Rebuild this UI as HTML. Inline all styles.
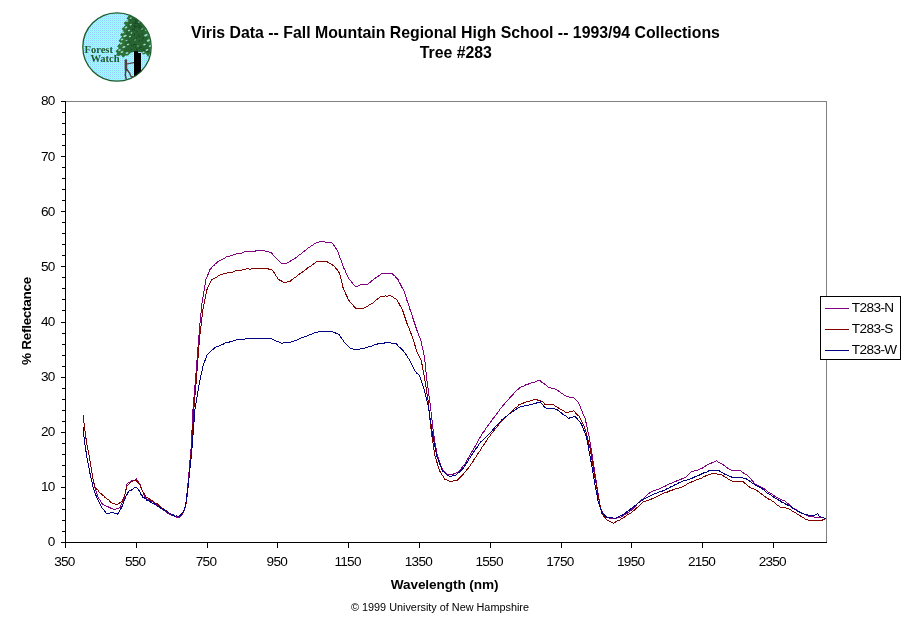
<!DOCTYPE html>
<html><head><meta charset="utf-8"><title>Viris Data -- Tree #283</title>
<style>
html,body{margin:0;padding:0;background:#fff;}
body{width:911px;height:623px;overflow:hidden;position:relative;}
svg{position:absolute;left:0;top:0;display:block;}
text{font-family:"Liberation Sans",Arial,Helvetica,sans-serif;fill:#000;}
.t13{font-size:13.6px;letter-spacing:-0.75px;}
.t12{font-size:13.6px;letter-spacing:-0.6px;}
.t11{font-size:10.85px;}
.bold13{font-size:13.6px;font-weight:bold;letter-spacing:-0.08px;}
.bold13r{font-size:13.6px;font-weight:bold;letter-spacing:-0.33px;}
.title{font-size:15.85px;font-weight:bold;}
.logo text{font-family:"Liberation Serif","Times New Roman",serif;font-weight:bold;font-size:10.5px;fill:#1f5a2a;}
</style></head><body>
<svg width="911" height="623" viewBox="0 0 911 623">
<g class="logo">
<defs><clipPath id="lc"><circle cx="117" cy="47" r="34"/></clipPath>
<pattern id="sky" width="2" height="2" patternUnits="userSpaceOnUse"><rect width="2" height="2" fill="#99ffff"/><rect width="1" height="1" fill="#99ccff"/><rect x="1" y="1" width="1" height="1" fill="#a4eef8"/></pattern></defs>
<circle cx="117" cy="47" r="34.2" fill="#9df0fb"/>
<circle cx="117" cy="47" r="34.2" fill="url(#sky)" stroke="#1c5c2c" stroke-width="1.3"/>
<g clip-path="url(#lc)">
<path d="M129.5 14.5 L126.5 18.5 L128 19.5 L123.5 23 L125.5 25 L121.5 29 L123.5 30.5 L120 35 L122 36.5 L118.5 41 L120.5 42.5 L117 46.5 L119 48 L115.5 51 L117 53 L116 55.5 L119 56 L121 55 L123 57.8 L125.5 55.5 L128 55.5 L130.5 53 L134 51.5 L141 51.5 L143 54.5 L146 53.5 L148 57 L151 52 L154 48 L154 12 L132 10 Z" fill="#2f7139"/>
<path d="M130 15 L126 33 L124 52 L150 52 L147 36 L138 18 Z" fill="#276431"/>
<path d="M137.8 34.5h1M136.3 49.6h1M138.3 36.3h1M137.1 25.9h1M141.7 40.2h1M135.3 23.0h1M139.6 22.9h1M129.2 42.2h1M146.8 51.4h1M138.9 40.9h1M132.4 25.0h1M130.6 36.9h1M134.5 26.1h1M136.7 21.0h1M141.6 34.1h1M139.0 36.6h1M139.3 36.0h1M134.0 34.6h1M147.5 51.9h1M141.0 46.9h1M133.9 30.1h1M132.2 29.2h1M135.2 44.5h1M134.8 47.1h1M144.2 50.7h1M134.9 20.0h1M136.4 49.1h1M134.8 51.4h1M138.1 22.3h1M132.8 44.9h1M135.6 22.8h1M142.4 50.9h1M134.8 23.8h1M133.2 23.2h1M131.1 45.5h1M136.2 37.9h1M139.3 26.1h1M138.3 24.2h1M136.3 23.7h1M134.7 26.8h1M143.3 51.1h1M141.4 29.7h1M135.9 26.7h1M139.7 47.3h1M134.5 26.8h1M133.9 44.7h1M132.1 29.5h1M137.7 22.9h1M138.1 27.8h1M136.4 31.9h1M136.7 50.7h1M142.6 38.4h1M133.6 25.9h1M143.4 49.1h1M133.7 28.0h1M144.8 43.7h1M141.5 26.3h1M139.0 48.2h1M131.8 33.5h1M139.2 27.6h1M140.5 28.2h1M133.8 39.1h1M139.1 25.6h1M134.8 22.2h1M142.3 37.9h1M133.5 39.7h1M131.0 49.4h1M135.3 20.5h1" stroke="#173f22" stroke-width="1" fill="none"/>
<g fill="#9adccb"><ellipse cx="130.7" cy="18.2" rx="1.2" ry="0.7" transform="rotate(-20 130.7 18.2)"/><ellipse cx="127.2" cy="21.1" rx="1.3" ry="0.8" transform="rotate(-20 127.2 21.1)"/><ellipse cx="130.7" cy="24.6" rx="1.2" ry="0.7" transform="rotate(-20 130.7 24.6)"/><ellipse cx="126" cy="27.5" rx="1.5" ry="0.8" transform="rotate(-20 126 27.5)"/><ellipse cx="129" cy="30.5" rx="1.2" ry="0.7" transform="rotate(-20 129 30.5)"/><ellipse cx="131.5" cy="33" rx="1.0" ry="0.7" transform="rotate(-20 131.5 33)"/><ellipse cx="123" cy="32.5" rx="1.3" ry="0.8" transform="rotate(-20 123 32.5)"/><ellipse cx="125" cy="35.9" rx="1.9" ry="1.0" transform="rotate(-20 125 35.9)"/><ellipse cx="130" cy="36.5" rx="1.2" ry="0.7" transform="rotate(-20 130 36.5)"/><ellipse cx="122" cy="39.5" rx="1.4" ry="0.8" transform="rotate(-20 122 39.5)"/><ellipse cx="145.9" cy="35.2" rx="1.9" ry="1.0" transform="rotate(-20 145.9 35.2)"/><ellipse cx="148.4" cy="40.5" rx="1.7" ry="1.0" transform="rotate(-20 148.4 40.5)"/><ellipse cx="144.5" cy="44.5" rx="1.4" ry="0.8" transform="rotate(-20 144.5 44.5)"/><ellipse cx="121" cy="43.5" rx="1.4" ry="0.8" transform="rotate(-20 121 43.5)"/><ellipse cx="128" cy="44.5" rx="1.3" ry="0.7" transform="rotate(-20 128 44.5)"/><ellipse cx="124" cy="47" rx="1.6" ry="0.9" transform="rotate(-20 124 47)"/><ellipse cx="119.5" cy="50" rx="1.4" ry="0.8" transform="rotate(-20 119.5 50)"/><ellipse cx="122" cy="52" rx="1.5" ry="0.8" transform="rotate(-20 122 52)"/><ellipse cx="127" cy="53" rx="1.4" ry="0.8" transform="rotate(-20 127 53)"/><ellipse cx="131" cy="54.3" rx="1.0" ry="0.6" transform="rotate(-20 131 54.3)"/><ellipse cx="143.5" cy="52.3" rx="1.3" ry="0.8" transform="rotate(-20 143.5 52.3)"/><ellipse cx="147" cy="50" rx="1.5" ry="0.9" transform="rotate(-20 147 50)"/><ellipse cx="150" cy="46" rx="1.2" ry="0.9" transform="rotate(-20 150 46)"/><ellipse cx="142" cy="29" rx="1.0" ry="0.6" transform="rotate(-20 142 29)"/><ellipse cx="139" cy="22" rx="1.0" ry="0.6" transform="rotate(-20 139 22)"/><ellipse cx="146" cy="30" rx="1.0" ry="0.6" transform="rotate(-20 146 30)"/><ellipse cx="135" cy="40" rx="0.8" ry="0.5" transform="rotate(-20 135 40)"/><ellipse cx="138" cy="46" rx="0.8" ry="0.5" transform="rotate(-20 138 46)"/><ellipse cx="126.5" cy="40.5" rx="1.1" ry="0.6" transform="rotate(-20 126.5 40.5)"/></g>
<path d="M134 51.2 H138 V53 H141 V80 H134 Z" fill="#000"/>
<g stroke="#51403f" fill="none" stroke-linecap="round" stroke-linejoin="round">
<circle cx="125.9" cy="60.6" r="1.4" fill="#51403f" stroke="none"/>
<path d="M125.9 62 L126 70" stroke-width="2.6"/>
<path d="M127 64 L133.6 62.6" stroke-width="1.2"/>
<path d="M125.8 70 L125.3 75 L126.2 79" stroke-width="1.5"/>
<path d="M127 69.5 L129.5 73 L131 76.5 L133 76.7" stroke-width="1.4"/>
</g>
</g>
<text x="84.5" y="52.8">Forest</text>
<text x="90.4" y="61.7">Watch</text>
</g>

<path d="M65 101.5H826.5V542" fill="none" stroke="#808080" stroke-width="1" shape-rendering="crispEdges"/>
<path d="M65.5 101V542.5H827" fill="none" stroke="#000" stroke-width="1" shape-rendering="crispEdges"/>
<path d="M61 542.5H66M62 531.5H66M62 520.5H66M62 509.5H66M62 498.5H66M61 487.5H66M62 476.5H66M62 465.5H66M62 454.5H66M62 443.5H66M61 432.5H66M62 421.5H66M62 410.5H66M62 399.5H66M62 388.5H66M61 377.5H66M62 366.5H66M62 355.5H66M62 344.5H66M62 333.5H66M61 322.5H66M62 310.5H66M62 299.5H66M62 288.5H66M62 277.5H66M61 266.5H66M62 255.5H66M62 244.5H66M62 233.5H66M62 222.5H66M61 211.5H66M62 200.5H66M62 189.5H66M62 178.5H66M62 167.5H66M61 156.5H66M62 145.5H66M62 134.5H66M62 123.5H66M62 112.5H66M61 101.5H66M65.5 542V548M136.5 542V548M207.5 542V548M277.5 542V548M348.5 542V548M419.5 542V548M490.5 542V548M561.5 542V548M631.5 542V548M702.5 542V548M773.5 542V548" fill="none" stroke="#000" stroke-width="1" shape-rendering="crispEdges"/>
<text x="54.6" y="546.4" text-anchor="end" class="t13">0</text>
<text x="54.6" y="491.3" text-anchor="end" class="t13">10</text>
<text x="54.6" y="436.1" text-anchor="end" class="t13">20</text>
<text x="54.6" y="381.0" text-anchor="end" class="t13">30</text>
<text x="54.6" y="325.9" text-anchor="end" class="t13">40</text>
<text x="54.6" y="270.8" text-anchor="end" class="t13">50</text>
<text x="54.6" y="215.7" text-anchor="end" class="t13">60</text>
<text x="54.6" y="160.5" text-anchor="end" class="t13">70</text>
<text x="54.6" y="105.4" text-anchor="end" class="t13">80</text>
<text x="64.4" y="565.6" text-anchor="middle" class="t13">350</text>
<text x="135.2" y="565.6" text-anchor="middle" class="t13">550</text>
<text x="206.0" y="565.6" text-anchor="middle" class="t13">750</text>
<text x="276.8" y="565.6" text-anchor="middle" class="t13">950</text>
<text x="347.6" y="565.6" text-anchor="middle" class="t13">1150</text>
<text x="418.4" y="565.6" text-anchor="middle" class="t13">1350</text>
<text x="489.1" y="565.6" text-anchor="middle" class="t13">1550</text>
<text x="559.9" y="565.6" text-anchor="middle" class="t13">1750</text>
<text x="630.7" y="565.6" text-anchor="middle" class="t13">1950</text>
<text x="701.5" y="565.6" text-anchor="middle" class="t13">2150</text>
<text x="772.3" y="565.6" text-anchor="middle" class="t13">2350</text>
<g fill="none" stroke-width="1" shape-rendering="crispEdges"><polyline stroke="#800080" points="83.3,415.0 83.5,416.7 83.6,418.5 83.8,420.2 83.9,421.9 84.1,423.6 84.2,425.4 84.4,427.1 84.6,428.7 84.9,430.3 85.1,432.0 85.3,433.6 85.6,435.2 85.8,436.8 86.0,438.5 86.3,440.1 86.5,441.7 86.8,443.4 87.1,445.0 87.4,446.7 87.7,448.4 88.0,450.0 88.4,451.7 88.7,453.4 89.0,455.1 89.3,456.7 89.6,458.4 89.9,460.1 90.2,461.8 90.4,463.5 90.7,465.2 91.0,466.9 91.3,468.7 91.6,470.4 91.9,472.1 92.1,473.8 92.4,475.5 92.7,477.2 93.0,478.9 93.4,480.7 93.8,482.4 94.1,484.1 94.5,485.9 94.8,487.6 95.3,489.2 95.9,490.7 96.4,492.3 96.9,493.9 97.5,495.4 98.0,497.0 99.0,498.8 100.0,499.9 101.1,501.8 102.1,503.7 103.7,504.7 105.2,505.4 106.8,506.5 108.4,507.0 110.0,507.7 111.5,508.9 113.0,509.0 114.6,509.2 116.4,509.0 118.1,508.4 119.9,507.7 120.7,505.7 121.5,504.1 122.4,502.5 123.2,501.1 124.0,499.1 124.4,497.4 124.7,495.6 125.1,493.9 125.4,492.2 125.8,490.4 126.1,488.7 126.5,487.0 126.8,485.2 127.2,483.5 128.6,482.4 129.9,481.9 131.3,480.6 133.1,480.0 134.8,480.0 136.6,479.0 137.6,480.7 138.7,482.6 139.7,483.6 140.3,485.2 140.9,486.8 141.6,488.5 142.2,490.1 142.8,491.8 143.6,493.7 144.4,495.3 145.2,496.9 146.0,498.3 147.6,499.2 149.1,499.8 150.6,500.8 152.2,501.5 153.9,502.3 155.7,504.5 157.4,505.4 158.7,506.0 160.0,507.4 161.3,508.4 162.6,509.3 164.0,510.4 165.4,511.6 166.8,512.7 168.5,513.8 170.3,514.7 172.0,515.3 173.6,515.9 175.2,516.3 176.7,517.2 178.3,517.9 179.7,516.7 181.1,515.6 182.5,514.5 183.1,512.6 183.7,511.1 184.4,509.5 185.0,508.0 185.6,506.4 185.8,504.8 186.0,503.2 186.1,501.5 186.3,499.9 186.5,498.3 186.7,496.7 186.8,495.0 187.0,493.4 187.2,491.8 187.3,490.2 187.5,488.5 187.7,486.9 187.8,485.3 187.9,483.6 188.1,482.0 188.2,480.4 188.4,478.7 188.6,477.1 188.7,475.4 188.8,473.8 189.0,472.2 189.2,470.5 189.3,468.9 189.4,467.2 189.6,465.6 189.7,463.9 189.9,462.2 190.0,460.5 190.1,458.9 190.3,457.2 190.4,455.5 190.6,453.8 190.7,452.2 190.8,450.5 191.0,448.8 191.1,447.1 191.3,445.5 191.4,443.8 191.5,442.1 191.6,440.5 191.6,438.8 191.7,437.2 191.8,435.5 191.9,433.9 191.9,432.2 192.0,430.5 192.1,428.9 192.2,427.2 192.2,425.6 192.3,423.9 192.4,422.3 192.5,420.6 192.5,418.9 192.6,417.3 192.7,415.6 192.8,414.0 192.8,412.3 192.9,410.7 193.0,409.0 193.1,407.4 193.3,405.7 193.4,404.1 193.6,402.4 193.7,400.8 193.8,399.1 194.0,397.5 194.1,395.8 194.2,394.2 194.4,392.5 194.5,390.9 194.7,389.2 194.8,387.6 194.9,385.9 195.1,384.3 195.2,382.6 195.3,381.0 195.5,379.3 195.6,377.7 195.8,376.0 195.9,374.4 196.0,372.8 196.2,371.1 196.3,369.5 196.4,367.9 196.5,366.2 196.7,364.6 196.8,363.0 196.9,361.4 197.0,359.7 197.2,358.1 197.3,356.5 197.4,354.8 197.5,353.2 197.7,351.6 197.8,349.9 197.9,348.3 198.0,346.7 198.2,345.1 198.3,343.4 198.4,341.8 198.5,340.2 198.7,338.5 198.8,336.9 199.0,335.2 199.1,333.6 199.3,331.9 199.4,330.2 199.6,328.5 199.7,326.9 199.9,325.2 200.0,323.5 200.2,321.8 200.3,320.2 200.5,318.5 200.6,316.8 200.8,315.1 200.9,313.5 201.1,311.8 201.2,310.1 201.4,308.4 201.5,306.8 201.7,305.1 202.0,303.5 202.2,301.9 202.5,300.2 202.8,298.6 203.0,297.0 203.3,295.4 203.6,293.7 203.8,292.1 204.1,290.5 204.4,288.9 204.7,287.2 204.9,285.6 205.2,284.0 205.5,282.4 205.7,280.7 206.0,279.1 206.7,277.3 207.4,276.0 208.2,274.0 208.9,272.1 209.6,270.5 210.3,268.8 211.5,267.9 212.7,266.4 213.9,265.6 215.1,264.1 216.3,263.3 217.5,262.0 219.0,260.9 220.4,260.2 221.9,259.6 223.3,258.6 224.8,258.2 226.2,257.1 227.7,256.3 229.4,256.4 231.1,255.5 232.8,255.2 234.4,254.6 236.1,254.1 237.8,253.4 239.5,253.5 241.2,253.1 242.9,252.7 244.5,251.7 246.2,251.4 247.9,251.2 249.7,251.4 251.4,251.1 253.2,251.1 255.0,251.1 256.7,250.8 258.5,250.9 260.3,250.8 262.0,250.7 263.8,250.5 265.6,251.1 267.4,251.9 269.2,252.0 271.0,252.6 272.2,253.9 273.3,255.3 274.5,256.3 275.6,257.5 276.8,258.8 278.2,260.2 279.7,262.0 281.1,263.4 283.0,263.1 285.0,263.1 286.9,263.2 288.3,262.4 289.8,261.6 291.2,260.6 292.6,259.6 294.1,259.0 295.5,258.0 296.8,257.3 298.1,255.9 299.4,254.9 300.7,254.2 301.9,252.9 303.2,252.1 304.5,250.9 305.8,250.1 307.1,248.6 308.5,247.8 310.0,247.1 311.4,245.7 312.9,245.2 314.3,243.8 315.8,243.2 317.2,242.4 320.0,241.8 321.7,241.6 323.3,241.6 325.0,242.0 326.6,242.3 328.3,242.0 329.9,242.5 331.6,242.2 332.6,243.9 333.5,244.7 334.5,246.2 335.4,247.8 336.4,249.1 337.3,250.4 337.9,251.8 338.5,253.4 339.0,255.0 339.6,256.6 340.2,258.1 340.8,259.7 341.4,261.3 341.9,262.9 342.5,264.5 343.1,266.1 343.8,268.0 344.6,269.5 345.3,271.0 346.0,272.6 346.7,274.4 347.4,275.8 348.2,277.4 348.9,279.0 350.1,280.3 351.3,281.5 352.5,283.2 353.7,284.5 354.9,285.9 356.1,286.9 357.5,286.3 359.0,285.4 360.4,284.7 362.2,284.6 364.0,284.8 365.9,284.4 367.7,284.2 369.1,283.2 370.6,281.8 372.0,280.5 373.5,279.7 374.9,278.5 376.3,277.5 377.8,276.4 379.2,275.5 380.7,274.5 382.1,273.1 383.8,273.3 385.5,273.3 387.1,273.1 388.8,273.2 390.5,273.3 392.2,273.5 393.4,274.8 394.5,275.7 395.7,277.2 396.8,278.1 398.0,279.4 398.8,281.3 399.7,283.0 400.5,284.2 401.3,286.1 402.1,287.7 403.0,288.9 403.8,290.7 404.3,292.2 404.9,293.9 405.4,295.5 406.0,297.1 406.5,298.7 407.0,300.4 407.6,302.0 408.1,303.6 408.6,305.2 409.2,306.9 409.7,308.5 410.2,310.1 410.8,311.7 411.3,313.4 411.9,315.0 412.4,316.6 412.9,318.2 413.5,319.9 414.0,321.5 414.5,323.1 415.1,324.7 415.6,326.4 416.2,328.0 416.7,329.6 417.3,331.3 418.0,332.9 418.6,334.6 419.2,336.2 419.8,337.9 420.5,339.5 421.1,341.2 421.4,342.8 421.8,344.4 422.1,346.0 422.5,347.6 422.8,349.1 423.1,350.7 423.5,352.3 423.8,353.9 424.2,355.5 424.5,357.1 424.7,358.8 424.8,360.4 425.0,362.1 425.2,363.7 425.4,365.4 425.5,367.0 425.7,368.6 425.9,370.3 426.0,371.9 426.2,373.6 426.4,375.2 426.6,376.9 426.7,378.6 426.9,380.2 427.1,381.8 427.3,383.5 427.6,385.1 427.8,386.8 428.0,388.4 428.2,390.1 428.4,391.7 428.7,393.4 428.9,395.0 429.1,396.7 429.3,398.3 429.5,400.0 429.8,401.6 430.0,403.3 430.2,404.9 430.4,406.5 430.6,408.2 430.8,409.8 431.0,411.4 431.1,413.0 431.3,414.7 431.5,416.3 431.7,417.9 431.9,419.5 432.1,421.2 432.3,422.8 432.5,424.4 432.7,426.1 432.8,427.7 433.0,429.3 433.2,430.9 433.4,432.6 433.6,434.2 433.9,435.9 434.2,437.6 434.5,439.2 434.7,440.9 435.0,442.6 435.3,444.3 435.6,446.0 435.9,447.7 436.1,449.3 436.4,451.0 436.7,452.7 437.0,454.4 437.6,456.1 438.1,457.8 438.7,459.5 439.2,461.1 439.8,462.8 440.4,464.5 440.9,466.2 441.5,467.9 442.6,469.3 443.8,470.9 444.9,472.0 446.0,473.6 447.9,474.2 449.7,474.1 451.6,474.4 453.3,474.1 455.0,473.5 456.6,472.9 458.3,472.1 459.3,471.0 460.2,469.8 461.2,468.5 462.2,467.5 463.2,466.0 464.1,464.8 465.1,463.6 466.0,462.0 466.8,460.4 467.7,459.0 468.6,457.5 469.4,456.0 470.3,454.5 471.2,452.8 472.0,451.5 472.9,450.0 473.7,448.7 474.5,447.2 475.4,445.8 476.2,444.4 477.0,443.0 477.8,441.4 478.6,439.8 479.4,438.3 480.3,437.2 481.1,435.9 481.9,434.2 482.8,432.7 483.8,431.8 484.7,430.2 485.6,428.9 486.6,427.3 487.5,426.3 488.4,425.1 489.4,423.6 490.3,422.3 491.2,421.1 492.2,419.4 493.1,418.4 494.1,417.3 495.2,415.9 496.2,414.4 497.2,413.2 498.2,411.8 499.3,410.3 500.3,408.9 501.3,408.0 502.3,406.3 503.4,404.9 504.4,404.0 505.5,402.6 506.6,401.2 507.8,400.0 508.9,398.9 510.0,397.3 511.1,396.3 512.3,395.1 513.4,393.9 514.7,392.3 516.1,391.2 517.4,389.8 518.8,388.7 520.1,387.2 521.6,386.9 523.1,386.4 524.6,385.4 526.1,384.7 527.6,384.5 529.1,383.7 530.8,383.3 532.6,382.2 534.3,382.2 536.0,381.5 537.8,380.7 539.5,380.3 540.9,381.5 542.3,382.6 543.8,383.3 545.2,384.6 546.6,385.4 548.0,387.0 549.5,387.2 551.1,388.0 552.6,388.4 554.2,388.8 555.7,389.2 557.2,390.3 558.6,391.1 560.1,392.0 561.6,393.4 563.1,394.1 564.5,395.4 566.0,396.0 567.9,396.7 569.9,397.1 571.8,397.2 573.7,397.5 575.0,399.1 576.2,400.5 577.5,401.7 578.8,403.2 579.4,404.7 580.1,406.5 580.7,408.3 581.4,409.4 582.0,410.8 582.6,412.8 583.3,414.4 583.9,416.0 584.6,417.3 585.2,418.7 585.6,420.4 585.9,422.1 586.3,423.7 586.6,425.3 587.0,427.0 587.3,428.6 587.7,430.3 588.0,431.9 588.4,433.5 588.7,435.2 589.1,436.8 589.4,438.4 589.6,440.1 589.9,441.8 590.2,443.4 590.5,445.1 590.7,446.7 591.0,448.4 591.3,450.0 591.5,451.6 591.8,453.3 592.1,454.9 592.4,456.6 592.6,458.2 592.9,459.9 593.1,461.5 593.4,463.1 593.6,464.7 593.9,466.3 594.1,467.9 594.4,469.5 594.6,471.1 594.8,472.8 595.1,474.4 595.3,476.0 595.6,477.6 595.8,479.2 596.1,480.8 596.3,482.4 596.6,484.0 596.8,485.6 597.1,487.2 597.3,488.9 597.6,490.6 597.9,492.2 598.2,493.9 598.4,495.5 598.7,497.1 599.0,498.8 599.2,500.4 599.5,502.1 599.8,503.8 600.1,505.4 600.3,507.1 600.6,508.7 601.4,510.3 602.2,511.6 602.9,513.1 603.7,515.1 604.5,516.5 606.0,516.8 607.6,517.5 609.1,517.9 610.7,518.4 612.2,518.6 614.1,518.5 616.0,518.2 618.0,517.8 619.9,517.9 621.4,516.7 622.8,515.9 624.3,515.0 625.8,514.1 627.3,513.2 628.7,512.3 630.2,511.1 631.3,510.4 632.5,508.7 633.6,508.1 634.7,506.9 635.9,505.7 637.0,504.1 638.1,503.0 639.3,502.3 640.4,501.0 641.7,499.8 643.0,499.0 644.3,497.3 645.5,496.5 646.8,495.3 648.1,494.0 649.4,493.1 650.7,492.1 652.4,491.6 654.1,490.4 655.9,490.1 657.6,489.2 659.3,488.9 661.0,487.9 662.5,487.1 663.9,486.6 665.4,486.1 666.8,485.1 668.3,484.2 669.7,483.9 671.2,483.2 673.0,482.6 674.7,481.6 676.5,481.0 678.2,480.2 680.0,479.7 681.9,478.8 683.9,477.9 685.8,477.4 687.0,476.3 688.1,474.9 689.3,473.5 690.4,472.7 691.6,471.4 693.5,471.2 695.5,470.6 697.4,470.2 699.3,469.6 700.9,468.7 702.5,468.0 704.1,467.1 705.7,465.9 707.3,465.0 708.9,464.2 710.4,463.6 712.0,462.7 713.5,462.1 715.1,461.5 716.6,460.5 718.1,461.9 719.7,462.8 721.2,463.6 722.8,464.5 724.3,465.5 725.6,466.5 727.0,467.7 728.3,468.5 729.7,469.5 731.0,470.2 732.6,470.7 734.2,470.4 735.8,470.5 737.4,470.4 739.0,471.0 740.6,470.8 742.0,471.9 743.3,472.8 744.7,473.7 746.0,474.5 747.4,475.5 748.5,476.7 749.6,477.9 750.7,478.7 751.8,480.2 752.9,481.5 754.0,483.0 755.1,484.1 756.6,484.8 758.2,485.6 759.7,486.2 761.3,487.3 762.8,487.9 764.3,488.9 765.9,490.1 767.4,491.5 769.0,492.4 770.5,493.3 772.0,494.2 773.6,495.5 775.1,496.4 776.7,497.6 778.2,498.1 779.9,499.0 781.5,499.9 783.2,500.2 784.9,501.0 786.3,502.4 787.6,503.4 789.0,504.4 790.3,505.7 791.7,507.1 793.2,508.0 794.8,508.7 796.3,509.6 797.9,511.1 799.4,511.9 800.9,512.4 802.5,513.6 804.0,513.9 805.6,514.8 807.1,515.9 809.0,516.2 811.0,516.2 812.9,516.9 814.8,517.1 816.7,517.4 818.6,517.5 820.6,517.4 822.5,517.7 824.1,518.1 825.7,518.9"/><polyline stroke="#800000" points="83.3,415.0 83.5,416.7 83.6,418.5 83.8,420.2 83.9,421.9 84.1,423.6 84.2,425.4 84.4,427.1 84.6,428.7 84.9,430.3 85.1,432.0 85.3,433.6 85.6,435.2 85.8,436.8 86.0,438.5 86.3,440.1 86.5,441.7 86.8,443.4 87.1,445.0 87.4,446.7 87.7,448.4 88.0,450.0 88.4,451.7 88.7,453.4 89.0,455.1 89.3,456.7 89.6,458.4 89.9,460.1 90.2,461.8 90.4,463.5 90.7,465.2 91.0,466.9 91.3,468.7 91.6,470.4 91.9,472.1 92.1,473.8 92.4,475.5 92.7,477.2 93.0,478.8 93.4,480.3 93.8,481.9 94.1,483.5 94.5,485.0 94.8,486.6 95.8,488.4 96.9,489.6 97.9,490.0 99.0,491.9 100.0,493.1 101.3,493.9 102.5,495.0 103.8,496.0 105.0,497.5 106.3,498.1 107.6,499.5 108.8,500.0 110.1,501.6 111.3,502.7 112.6,503.3 114.7,503.9 116.7,504.8 118.5,503.7 120.2,502.6 122.0,501.5 122.6,500.2 123.2,498.6 123.9,497.1 124.5,495.5 125.1,493.9 125.5,492.2 125.9,490.6 126.4,488.9 126.8,487.3 127.2,485.6 128.6,484.4 129.9,483.2 131.3,481.9 133.4,480.8 135.5,480.0 137.1,481.4 138.6,482.9 139.4,484.4 140.2,485.6 141.0,488.2 141.8,489.9 142.6,491.6 143.5,492.3 144.3,494.3 145.2,495.1 146.0,497.2 147.6,497.7 149.1,498.5 150.6,500.1 152.2,500.2 153.9,501.9 155.7,503.5 157.4,504.0 158.7,505.0 160.0,506.8 161.3,507.4 162.6,508.7 164.0,509.0 165.4,510.4 166.8,511.2 168.5,512.9 170.3,513.3 172.0,515.3 173.6,514.8 175.2,516.1 176.7,515.8 178.3,516.6 179.7,516.2 181.1,514.4 182.5,513.4 183.3,512.1 184.1,509.9 184.8,507.7 185.6,506.9 185.8,504.8 186.1,503.2 186.3,501.5 186.5,499.9 186.8,498.3 187.0,496.7 187.2,495.0 187.5,493.4 187.7,491.8 187.8,490.2 188.0,488.5 188.2,486.9 188.3,485.3 188.4,483.6 188.6,482.0 188.8,480.4 188.9,478.7 189.1,477.1 189.2,475.4 189.3,473.8 189.5,472.2 189.7,470.5 189.8,468.9 189.9,467.2 190.1,465.6 190.2,463.9 190.4,462.2 190.5,460.5 190.6,458.9 190.8,457.2 190.9,455.5 191.1,453.8 191.2,452.2 191.3,450.5 191.5,448.8 191.6,447.1 191.8,445.5 191.9,443.8 192.0,442.1 192.1,440.5 192.2,438.8 192.3,437.2 192.4,435.5 192.5,433.9 192.6,432.2 192.7,430.5 192.8,428.9 192.9,427.2 192.9,425.6 193.0,423.9 193.1,422.3 193.2,420.6 193.3,418.9 193.4,417.3 193.5,415.6 193.6,414.0 193.7,412.3 193.8,410.7 193.9,409.0 194.0,407.4 194.2,405.7 194.3,404.1 194.5,402.4 194.6,400.8 194.7,399.1 194.9,397.5 195.0,395.8 195.1,394.2 195.3,392.5 195.4,390.9 195.6,389.2 195.7,387.6 195.8,385.9 196.0,384.3 196.1,382.6 196.2,381.0 196.4,379.3 196.5,377.7 196.7,376.0 196.8,374.4 196.9,372.8 197.0,371.1 197.2,369.5 197.3,367.9 197.4,366.2 197.5,364.6 197.7,363.0 197.8,361.4 197.9,359.7 198.0,358.1 198.1,356.5 198.3,354.8 198.4,353.2 198.5,351.6 198.6,349.9 198.7,348.3 198.9,346.7 199.0,345.1 199.1,343.4 199.2,341.8 199.4,340.2 199.5,338.5 199.6,336.9 199.8,335.3 200.0,333.7 200.2,332.1 200.4,330.5 200.6,328.9 200.8,327.3 201.0,325.7 201.2,324.1 201.3,322.4 201.5,320.8 201.7,319.2 201.9,317.6 202.1,316.0 202.3,314.4 202.5,312.8 202.7,311.2 202.9,309.6 203.1,308.0 203.5,306.3 203.8,304.6 204.2,302.9 204.5,301.3 204.9,299.6 205.2,297.9 205.6,296.2 206.0,294.5 206.3,292.9 206.7,291.2 207.0,289.5 207.4,287.8 208.3,286.1 209.2,284.4 210.0,282.9 210.9,281.2 211.8,279.7 213.2,279.0 214.7,278.3 216.1,277.3 217.5,276.6 219.0,275.4 220.4,274.7 222.1,274.7 223.7,273.8 225.4,273.5 227.0,272.9 228.7,272.5 230.3,272.6 232.0,272.2 233.6,271.7 235.2,271.0 236.8,270.8 238.4,270.5 240.0,270.4 241.6,270.1 243.2,269.6 244.8,269.3 246.4,268.8 248.1,268.9 249.8,269.1 251.5,268.9 253.1,268.5 254.8,268.6 256.5,268.7 258.2,268.3 259.9,268.6 261.6,268.3 263.2,268.4 264.9,268.1 266.6,268.4 268.5,269.0 270.5,269.7 272.4,270.2 273.4,271.8 274.3,273.0 275.3,274.8 276.3,276.4 277.2,277.5 278.2,279.1 279.6,280.0 281.1,280.8 282.6,281.9 284.0,282.9 285.9,282.3 287.8,281.8 289.7,281.7 291.1,280.2 292.6,279.3 294.0,278.2 295.5,277.2 296.9,276.1 298.4,274.6 299.8,273.8 301.3,272.7 302.7,271.8 304.2,270.9 305.6,269.7 307.1,268.2 308.5,267.5 309.9,266.6 311.4,265.6 312.9,264.4 314.3,263.5 315.8,262.0 317.2,261.5 319.0,261.3 320.8,261.3 322.6,261.4 324.4,261.4 327.2,261.6 328.6,262.8 330.1,263.7 331.5,264.2 333.0,265.4 334.4,266.2 335.4,267.4 336.5,269.2 337.5,270.2 338.6,271.9 339.6,273.3 340.0,274.9 340.4,276.5 340.8,278.1 341.2,279.7 341.5,281.4 341.9,283.0 342.3,284.6 342.7,286.2 343.1,287.8 343.8,289.5 344.6,291.2 345.3,292.7 346.0,294.4 346.7,295.8 347.4,297.4 348.2,299.2 348.9,300.5 350.1,301.8 351.3,303.6 352.5,304.5 353.7,306.2 354.9,307.5 356.1,308.5 357.9,308.7 359.7,308.8 361.5,308.8 363.3,308.4 364.8,307.6 366.2,306.9 367.6,306.1 369.1,305.1 370.6,304.1 372.0,303.6 373.2,302.9 374.5,301.5 375.7,300.5 376.9,299.4 378.1,298.4 379.4,297.7 380.6,296.3 382.3,296.4 384.0,296.1 385.7,296.0 387.4,296.1 389.1,295.5 390.8,295.8 392.2,296.4 393.6,297.5 395.1,298.6 396.5,299.4 397.3,300.7 398.2,302.4 399.0,303.4 399.8,305.2 400.6,306.4 401.5,308.0 402.3,309.6 402.8,311.0 403.4,312.6 403.9,314.3 404.5,315.9 405.0,317.5 405.5,319.1 406.1,320.8 406.6,322.4 407.2,324.0 407.9,325.6 408.5,327.2 409.2,328.8 409.8,330.5 410.5,332.1 411.1,333.7 411.8,335.3 412.4,336.9 412.9,338.5 413.4,340.1 413.8,341.7 414.3,343.3 414.8,344.9 415.3,346.5 415.7,348.1 416.2,349.7 416.7,351.3 417.4,352.6 418.2,354.3 418.9,355.6 419.6,357.0 420.4,358.7 421.1,359.8 421.4,361.6 421.7,363.3 422.1,364.9 422.4,366.5 422.7,368.2 423.0,369.8 423.3,371.5 423.6,373.1 424.0,374.7 424.3,376.4 424.6,378.0 424.8,379.6 425.1,381.2 425.3,382.8 425.6,384.4 425.8,386.0 426.1,387.6 426.3,389.2 426.5,390.8 426.8,392.4 427.0,394.0 427.3,395.6 427.5,397.2 427.8,398.8 428.0,400.4 428.2,402.1 428.3,403.7 428.5,405.4 428.7,407.0 428.9,408.7 429.0,410.3 429.2,412.0 429.4,413.7 429.6,415.3 429.7,417.0 429.9,418.6 430.1,420.3 430.3,422.0 430.4,423.6 430.6,425.3 430.8,426.9 431.0,428.6 431.1,430.2 431.3,431.9 431.5,433.5 431.8,435.1 432.0,436.7 432.3,438.3 432.5,439.9 432.8,441.5 433.0,443.1 433.2,444.8 433.5,446.4 433.7,448.0 434.0,449.6 434.2,451.2 434.5,452.8 434.7,454.4 435.1,456.0 435.6,457.5 436.1,459.1 436.5,460.7 436.9,462.2 437.4,463.8 437.8,465.4 438.3,467.0 438.8,468.5 439.2,470.1 440.1,471.7 441.1,473.0 442.0,474.9 442.9,476.0 443.9,477.6 444.8,479.2 446.7,479.7 448.5,480.8 450.4,481.4 452.1,481.1 453.8,480.8 455.5,480.8 457.2,480.5 458.5,479.1 459.9,477.5 461.2,476.1 462.6,474.9 463.9,473.2 464.9,472.0 465.9,471.3 466.9,469.5 467.9,468.7 468.8,467.3 469.8,466.2 470.8,464.4 471.8,463.3 472.7,462.1 473.6,460.2 474.6,458.9 475.5,457.6 476.4,456.0 477.3,454.6 478.2,453.4 479.1,451.7 480.1,450.8 481.0,449.1 481.9,447.3 482.8,446.5 483.7,444.8 484.6,443.6 485.5,442.3 486.4,440.7 487.3,439.6 488.2,438.0 489.1,436.7 490.0,435.8 490.9,434.4 492.0,432.9 493.1,431.6 494.3,430.4 495.4,428.6 496.5,427.4 497.6,425.9 498.7,424.5 499.9,423.2 501.0,421.9 502.1,420.4 503.4,419.2 504.7,418.1 506.0,416.9 507.2,415.8 508.5,414.5 509.8,413.1 511.1,411.7 512.4,410.8 513.7,409.2 515.0,408.1 516.4,407.4 517.7,406.1 519.0,404.7 520.6,404.2 522.2,403.5 523.7,402.9 525.3,402.2 526.9,401.5 528.7,401.3 530.5,400.9 532.2,400.3 534.0,399.7 535.8,399.2 537.5,400.0 539.2,400.7 540.9,400.9 542.6,401.7 544.0,403.3 545.4,404.8 547.3,404.4 549.2,404.7 551.2,404.5 553.1,404.5 554.5,405.6 556.0,406.5 557.4,407.3 558.8,408.3 560.3,409.1 561.7,409.8 563.1,410.4 564.6,411.7 566.0,412.6 567.9,412.3 569.9,411.8 571.8,411.1 573.7,410.9 575.0,412.1 576.3,413.7 577.5,415.0 578.8,416.0 580.1,417.8 580.8,419.4 581.6,421.1 582.3,422.4 583.0,424.0 583.7,425.6 584.5,427.6 585.2,429.2 585.6,430.7 586.0,432.3 586.4,433.8 586.8,435.4 587.2,437.0 587.6,438.6 587.9,440.1 588.3,441.7 588.7,443.3 589.1,444.9 589.5,446.4 589.9,448.0 590.3,449.6 590.6,451.2 590.9,452.9 591.1,454.6 591.4,456.2 591.7,457.9 592.0,459.5 592.2,461.1 592.5,462.8 592.8,464.4 593.1,466.1 593.4,467.8 593.6,469.4 593.9,471.1 594.2,472.7 594.5,474.3 594.8,476.0 595.0,477.6 595.3,479.3 595.6,480.9 595.9,482.6 596.2,484.2 596.4,485.9 596.7,487.6 597.0,489.2 597.3,490.9 597.5,492.5 597.8,494.2 598.1,495.8 598.4,497.4 598.8,499.1 599.1,500.7 599.5,502.3 599.8,504.0 600.2,505.6 600.5,507.3 600.9,508.9 601.2,510.5 601.6,512.2 601.9,513.8 602.9,515.0 603.9,516.3 605.0,517.6 606.0,519.1 607.0,519.9 608.6,521.0 610.2,521.5 611.9,522.3 613.5,523.4 615.0,522.3 616.6,521.3 618.1,520.7 619.7,520.0 621.2,519.0 622.7,518.0 624.1,517.3 625.6,516.4 627.0,515.0 628.5,514.2 629.9,513.7 631.4,512.8 632.7,511.2 634.0,510.4 635.3,509.3 636.6,508.0 637.8,507.0 639.1,505.7 640.4,504.4 641.7,503.3 643.0,502.0 644.7,501.7 646.4,500.8 648.1,500.4 649.9,499.6 651.6,499.0 653.3,498.7 654.8,497.6 656.2,496.9 657.7,496.1 659.1,495.3 660.6,494.6 662.0,494.0 663.5,493.5 665.2,492.4 666.9,492.3 668.6,491.5 670.4,490.4 672.1,490.2 673.8,489.3 675.3,489.0 676.9,488.4 678.5,488.2 680.0,487.8 681.5,487.2 683.1,486.3 684.6,485.6 686.2,484.8 687.7,483.7 689.2,482.9 690.8,482.5 692.3,481.6 693.9,480.9 695.4,480.3 696.9,479.8 698.5,479.2 700.0,478.6 701.6,478.1 703.1,477.0 704.8,476.5 706.5,475.5 708.1,475.1 709.8,474.3 711.7,473.9 713.7,473.8 715.6,473.8 717.3,474.1 719.0,474.7 720.7,474.7 722.4,475.1 723.8,476.4 725.2,477.2 726.7,477.9 728.1,479.3 730.0,479.9 732.0,481.0 733.9,481.7 735.6,481.8 737.4,481.8 739.1,481.6 740.9,481.9 742.6,481.3 743.9,482.5 745.2,483.7 746.5,484.2 747.7,485.6 749.0,486.7 750.3,487.5 752.0,488.4 753.6,488.7 755.3,489.8 757.0,490.7 758.3,491.5 759.6,492.5 760.9,493.7 762.1,494.3 763.4,495.2 764.7,496.5 766.2,497.6 767.8,498.5 769.3,499.4 770.9,500.1 772.4,501.4 773.7,501.9 775.0,503.0 776.2,504.3 777.5,505.3 778.8,506.0 780.1,507.2 782.0,507.2 784.0,507.9 785.9,507.9 787.8,508.4 789.3,509.3 790.9,510.0 792.4,511.1 794.0,512.0 795.5,512.7 797.0,513.9 798.6,514.5 800.1,515.7 801.7,516.7 803.2,517.5 805.2,519.1 807.1,519.9 809.0,520.2 811.0,520.3 812.9,520.3 814.8,520.8 816.7,520.7 818.6,520.8 820.5,520.9 822.2,520.1 824.0,519.6 825.7,518.8"/><polyline stroke="#000080" points="83.3,427.1 83.4,428.7 83.5,430.3 83.7,432.0 83.8,433.6 83.9,435.2 84.0,436.8 84.2,438.5 84.3,440.1 84.4,441.7 84.7,443.4 85.0,445.1 85.2,446.8 85.5,448.5 85.8,450.2 86.1,452.0 86.4,453.7 86.7,455.4 86.9,457.1 87.2,458.8 87.5,460.5 87.8,462.2 88.1,463.8 88.5,465.5 88.8,467.2 89.1,468.9 89.4,470.5 89.7,472.2 90.1,473.9 90.4,475.5 90.7,477.2 91.1,478.8 91.5,480.3 91.9,481.9 92.2,483.4 92.6,485.0 93.0,486.6 93.4,488.1 93.8,489.7 94.4,491.4 95.0,493.1 95.7,494.7 96.3,496.4 96.9,498.1 97.7,499.5 98.6,501.4 99.4,503.0 100.3,504.6 101.1,506.5 102.1,507.8 103.2,509.4 104.2,510.4 105.3,511.9 106.3,513.1 108.4,513.2 110.5,512.9 112.6,512.3 114.3,513.4 116.1,513.9 117.8,514.1 118.6,512.3 119.5,511.0 120.3,509.0 121.2,508.2 122.0,506.5 122.7,504.7 123.4,502.9 124.0,501.2 124.7,499.5 125.4,497.7 126.1,496.0 127.2,494.2 128.2,492.1 129.3,490.6 130.9,490.3 132.4,489.6 133.9,487.9 135.5,487.7 137.1,488.1 138.6,489.9 139.4,491.0 140.3,493.0 141.1,494.6 142.0,495.5 142.8,497.5 144.2,497.9 145.6,498.7 147.0,500.3 148.5,500.5 149.9,501.5 151.4,502.6 152.8,503.6 154.3,503.9 155.9,504.6 157.4,506.3 159.0,506.5 160.6,508.0 162.2,509.0 163.7,509.4 165.2,510.5 166.8,511.6 168.4,512.7 169.9,513.5 171.5,514.4 173.1,515.3 174.8,516.1 176.6,516.0 178.3,516.3 179.7,515.7 181.1,514.3 182.5,513.5 183.1,512.0 183.7,510.4 184.4,508.7 185.0,507.1 185.6,505.4 185.8,503.8 186.0,502.2 186.2,500.6 186.4,499.0 186.6,497.4 186.8,495.8 187.0,494.2 187.3,492.6 187.5,491.0 187.7,489.4 187.9,487.8 188.1,486.2 188.3,484.6 188.5,483.0 188.7,481.4 188.9,479.8 189.0,478.1 189.2,476.5 189.4,474.8 189.5,473.2 189.7,471.5 189.9,469.9 190.0,468.2 190.2,466.6 190.4,464.9 190.6,463.3 190.7,461.6 190.9,460.0 191.1,458.3 191.2,456.7 191.4,455.0 191.6,453.4 191.7,451.7 191.9,450.1 192.0,448.5 192.1,446.8 192.3,445.2 192.4,443.5 192.5,441.9 192.6,440.2 192.8,438.6 192.9,436.9 193.0,435.3 193.1,433.7 193.3,432.0 193.4,430.4 193.5,428.7 193.6,427.1 193.8,425.4 193.9,423.8 194.0,422.2 194.1,420.5 194.3,418.9 194.4,417.2 194.5,415.6 194.6,413.9 194.8,412.3 194.9,410.6 195.0,409.0 195.3,407.4 195.5,405.7 195.8,404.1 196.1,402.4 196.4,400.8 196.6,399.1 196.9,397.5 197.2,395.9 197.4,394.2 197.7,392.6 198.0,390.9 198.3,389.3 198.5,387.6 198.8,386.0 199.2,384.3 199.5,382.6 199.9,380.9 200.2,379.2 200.6,377.5 200.9,375.9 201.3,374.2 201.7,372.5 202.0,370.8 202.4,369.1 202.7,367.4 203.1,365.7 203.7,364.1 204.3,362.4 204.9,360.8 205.6,359.1 206.2,357.5 206.8,355.8 207.4,354.2 208.6,353.4 209.8,352.3 211.1,351.0 212.3,349.6 213.5,349.0 214.7,347.6 216.3,346.9 218.0,346.4 219.6,345.6 221.3,344.8 222.9,344.3 224.6,343.4 226.2,342.5 227.9,342.0 229.5,342.0 231.2,341.3 232.8,341.1 234.5,340.4 236.1,339.9 237.8,339.7 239.4,339.7 241.1,339.1 242.7,339.3 244.4,339.2 246.0,338.9 247.7,338.7 249.3,338.0 251.0,338.4 252.7,338.5 254.4,338.0 256.0,338.2 257.7,338.2 259.4,338.3 261.1,338.3 262.8,338.3 264.4,338.5 266.1,338.0 267.8,338.0 269.5,338.1 271.4,338.7 273.4,339.4 275.3,340.6 276.8,341.2 278.2,341.5 279.7,342.5 281.1,343.1 282.8,343.0 284.5,342.9 286.3,342.9 288.0,342.8 289.7,342.5 291.4,341.8 293.0,341.3 294.7,340.5 296.3,340.2 298.0,339.7 299.6,338.8 301.3,338.0 303.0,337.4 304.6,336.8 306.3,336.3 307.9,335.7 309.6,334.7 311.2,334.3 312.9,333.5 314.6,332.9 316.3,332.4 318.1,332.0 319.8,331.7 321.5,331.1 323.2,331.3 324.9,331.3 326.6,331.2 328.2,331.5 329.9,331.7 331.6,331.4 333.4,332.2 335.2,332.8 337.0,333.7 338.8,334.3 339.8,335.4 340.7,337.1 341.6,338.5 342.6,339.6 343.6,341.1 344.5,342.4 345.9,344.1 347.4,345.3 348.9,346.7 350.3,348.0 352.2,348.6 354.2,349.3 356.1,349.9 357.8,349.3 359.5,349.3 361.1,348.6 362.8,348.3 364.5,348.3 366.2,347.5 367.9,347.0 369.5,346.5 371.2,346.4 372.8,345.5 374.5,344.9 376.1,344.8 377.8,343.9 379.5,344.0 381.2,343.5 382.9,343.3 384.5,343.0 386.2,342.5 387.9,342.3 389.6,342.2 391.3,343.1 393.1,343.3 394.8,343.8 396.5,343.9 397.7,345.4 398.9,346.8 400.1,347.4 401.4,348.8 402.6,350.1 403.8,351.5 404.8,352.6 405.7,354.0 406.6,355.5 407.6,357.2 408.6,358.7 409.5,359.9 410.2,361.4 410.9,362.8 411.7,364.2 412.4,365.7 413.1,366.9 413.9,368.6 414.6,370.3 415.3,371.4 416.7,373.1 418.2,374.2 419.6,375.9 420.2,377.4 420.7,379.0 421.3,380.6 421.8,382.2 422.4,383.8 422.9,385.4 423.5,387.0 423.9,388.6 424.3,390.3 424.7,391.9 425.1,393.5 425.5,395.1 426.0,396.8 426.4,398.4 426.8,400.0 427.2,401.6 427.6,403.3 428.0,404.9 428.2,406.5 428.5,408.2 428.8,409.8 429.0,411.4 429.2,413.0 429.5,414.7 429.8,416.3 430.0,417.9 430.2,419.5 430.5,421.2 430.8,422.8 431.0,424.4 431.2,426.1 431.5,427.7 431.8,429.3 432.0,430.9 432.2,432.6 432.5,434.2 432.8,435.8 433.1,437.4 433.5,439.0 433.8,440.6 434.1,442.2 434.4,443.8 434.8,445.4 435.1,447.0 435.4,448.6 435.7,450.2 436.0,451.8 436.4,453.4 436.7,455.0 437.0,456.6 437.6,458.2 438.2,459.8 438.9,461.5 439.5,463.1 440.1,464.7 440.7,466.3 441.4,468.0 442.0,469.6 442.6,471.2 443.9,472.1 445.3,473.4 446.6,474.5 448.0,475.6 449.3,476.3 451.0,476.3 452.7,475.6 454.4,475.4 456.1,475.2 457.4,473.6 458.8,472.4 460.1,471.6 461.5,470.1 462.8,468.9 463.7,467.7 464.6,466.3 465.4,464.6 466.3,463.4 467.2,462.1 468.1,460.7 468.9,459.2 469.8,458.0 470.7,456.9 471.6,455.2 472.5,453.9 473.4,452.3 474.3,451.1 475.2,449.9 476.1,448.3 477.0,447.4 477.9,446.0 478.8,444.2 479.7,443.4 480.9,441.8 482.2,440.8 483.4,439.5 484.7,438.0 485.9,437.0 487.2,435.7 488.4,434.6 489.7,433.0 490.9,432.1 492.0,430.9 493.1,429.5 494.3,428.2 495.4,426.7 496.5,425.7 497.6,424.4 498.7,423.4 499.9,422.2 501.0,420.9 502.1,419.4 503.4,418.7 504.7,417.7 506.0,416.5 507.2,415.9 508.5,414.8 509.8,413.5 511.1,413.1 512.4,411.7 513.7,410.8 515.0,410.1 516.4,409.1 517.7,408.2 519.0,407.3 520.7,406.8 522.4,406.3 524.0,405.9 525.7,405.4 527.4,405.4 529.1,405.1 530.7,404.5 532.3,404.3 533.9,403.7 535.5,403.2 537.1,402.9 538.7,402.8 540.3,401.9 541.6,403.7 542.8,404.9 544.1,406.7 545.4,407.9 547.1,408.1 548.8,408.3 550.5,408.5 552.3,408.8 554.0,408.7 555.7,409.2 557.1,409.8 558.5,410.9 560.0,411.9 561.4,412.9 562.8,414.3 564.2,415.3 565.7,416.0 567.1,417.1 568.5,418.2 570.1,417.9 571.7,417.4 573.3,416.9 574.9,416.3 576.0,417.3 577.1,418.7 578.1,419.9 579.2,421.3 580.3,422.7 581.4,423.7 582.0,425.5 582.7,427.1 583.3,428.7 584.0,430.4 584.6,432.0 585.2,433.6 585.9,435.2 586.5,436.8 586.8,438.4 587.1,440.0 587.4,441.5 587.7,443.1 588.0,444.7 588.3,446.3 588.5,447.8 588.8,449.4 589.1,451.0 589.4,452.6 589.7,454.1 590.0,455.7 590.3,457.3 590.6,458.9 590.9,460.6 591.1,462.2 591.4,463.9 591.7,465.6 592.0,467.2 592.2,468.9 592.5,470.5 592.8,472.1 593.1,473.8 593.4,475.4 593.6,477.1 593.9,478.8 594.2,480.4 594.5,482.0 594.8,483.6 595.1,485.2 595.4,486.7 595.7,488.3 596.0,489.9 596.3,491.5 596.6,493.1 596.9,494.7 597.2,496.2 597.5,497.8 597.8,499.4 598.1,501.0 598.6,502.6 599.2,504.3 599.7,505.9 600.3,507.6 600.8,509.2 601.4,510.9 601.9,512.5 603.2,514.0 604.5,515.1 605.7,516.2 607.0,517.4 608.9,517.6 610.9,517.9 612.8,518.0 614.7,518.4 616.2,517.9 617.8,517.1 619.3,516.4 620.9,515.8 622.4,515.0 623.7,514.1 625.0,513.3 626.3,512.2 627.5,511.1 628.8,510.5 630.1,509.5 631.4,508.3 632.7,507.3 634.0,506.5 635.3,505.5 636.6,504.3 637.9,503.3 639.1,502.4 640.4,501.8 641.7,500.4 643.0,499.7 644.5,498.8 645.9,498.1 647.4,497.3 648.9,496.7 650.4,495.9 651.8,495.0 653.3,494.4 655.0,493.8 656.7,493.3 658.4,492.4 660.1,491.7 661.8,491.3 663.5,490.6 665.0,490.1 666.4,489.0 667.9,488.5 669.4,487.7 670.9,486.8 672.3,486.6 673.8,485.4 675.3,484.6 676.9,484.0 678.5,483.0 680.0,482.5 681.5,481.8 683.1,481.1 684.6,480.5 686.2,480.4 687.7,479.6 689.2,479.3 690.8,478.5 692.3,478.2 693.9,477.3 695.4,476.6 696.9,476.0 698.5,475.6 700.0,474.8 701.6,473.9 703.1,473.1 704.8,472.7 706.5,472.1 708.1,471.2 709.8,470.1 711.5,470.1 713.3,470.2 715.0,470.2 716.8,470.1 718.5,470.1 720.2,471.5 721.9,472.6 723.5,473.1 725.2,474.6 726.9,475.0 728.7,475.8 730.4,476.6 732.2,477.3 733.9,477.4 735.8,477.4 737.8,477.4 739.7,477.5 741.4,477.4 743.0,478.0 744.7,478.8 746.4,478.9 747.8,479.9 749.1,480.8 750.5,481.8 751.8,482.9 753.2,483.3 754.7,484.5 756.3,485.4 757.8,486.3 759.4,487.0 760.9,488.1 762.3,488.9 763.8,490.1 765.2,491.2 766.6,492.8 768.1,493.5 769.7,494.4 771.2,495.3 772.8,496.6 774.3,497.5 775.8,498.5 777.4,499.3 778.9,500.3 780.5,501.0 782.0,502.3 783.5,502.7 785.1,503.7 786.6,504.6 788.2,505.3 789.7,505.8 791.2,506.8 792.8,508.2 794.3,509.0 795.9,510.1 797.4,511.1 798.9,511.6 800.5,512.7 802.0,513.3 803.6,513.8 805.1,514.6 807.0,514.8 809.0,515.3 810.9,516.0 812.8,515.9 814.2,515.4 815.7,514.5 817.7,513.8 819.6,516.7 821.1,517.0 822.7,517.5 824.2,518.1 825.7,519.0"/></g>
<rect x="820.5" y="296.5" width="80" height="63" fill="#fff" stroke="#000" stroke-width="1"/>
<path d="M825 308.5H849" stroke="#800080" stroke-width="1" shape-rendering="crispEdges"/>
<text x="851.8" y="311.5" class="t12">T283-N</text>
<path d="M825 329.5H849" stroke="#800000" stroke-width="1" shape-rendering="crispEdges"/>
<text x="851.8" y="332.5" class="t12">T283-S</text>
<path d="M825 350.5H849" stroke="#000080" stroke-width="1" shape-rendering="crispEdges"/>
<text x="851.8" y="353.5" class="t12">T283-W</text>
<text x="455.5" y="37.7" text-anchor="middle" class="title">Viris Data -- Fall Mountain Regional High School -- 1993/94 Collections</text>
<text x="455.8" y="57.8" text-anchor="middle" class="title">Tree #283</text>
<text x="444.6" y="589" text-anchor="middle" class="bold13">Wavelength (nm)</text>
<text transform="translate(31,321) rotate(-90)" text-anchor="middle" class="bold13r">% Reflectance</text>
<text x="440" y="611" text-anchor="middle" class="t11">© 1999 University of New Hampshire</text>
</svg>
</body></html>
